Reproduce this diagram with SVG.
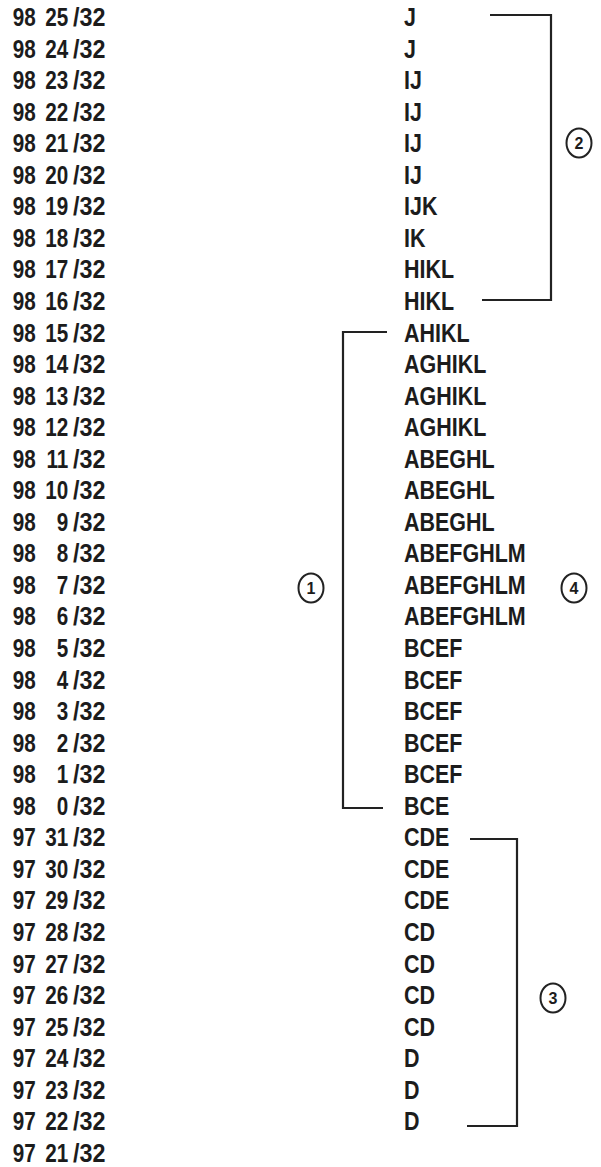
<svg xmlns="http://www.w3.org/2000/svg" width="601" height="1167" viewBox="0 0 601 1167">
<style>
text{font-family:"Liberation Sans",Arial,sans-serif;font-size:26.5px;font-weight:bold;fill:#1c1c1c}
.n{transform:scale(0.78,1)}
.s{transform:scale(0.88,1)}
.l{transform:scale(0.81,1)}
.d{text-anchor:end}
.c{font-size:16px;text-anchor:middle}
.br{fill:none;stroke:#222;stroke-width:2.2}
.ring{fill:none;stroke:#222;stroke-width:2}
</style>
<rect width="601" height="1167" fill="#fff"/>
<g id="rows">
<g id="r0" transform="translate(0 26)"><text class="n" x="16.3">98</text><text class="n d" x="87.6">25</text><text class="s" x="83">/32</text><text class="l" x="498.8">J</text></g>
<g id="r1" transform="translate(0 57.55)"><text class="n" x="16.3">98</text><text class="n d" x="87.6">24</text><text class="s" x="83">/32</text><text class="l" x="498.8">J</text></g>
<g id="r2" transform="translate(0 89.1)"><text class="n" x="16.3">98</text><text class="n d" x="87.6">23</text><text class="s" x="83">/32</text><text class="l" x="498.8">IJ</text></g>
<g id="r3" transform="translate(0 120.65)"><text class="n" x="16.3">98</text><text class="n d" x="87.6">22</text><text class="s" x="83">/32</text><text class="l" x="498.8">IJ</text></g>
<g id="r4" transform="translate(0 152.2)"><text class="n" x="16.3">98</text><text class="n d" x="87.6">21</text><text class="s" x="83">/32</text><text class="l" x="498.8">IJ</text></g>
<g id="r5" transform="translate(0 183.75)"><text class="n" x="16.3">98</text><text class="n d" x="87.6">20</text><text class="s" x="83">/32</text><text class="l" x="498.8">IJ</text></g>
<g id="r6" transform="translate(0 215.3)"><text class="n" x="16.3">98</text><text class="n d" x="87.6">19</text><text class="s" x="83">/32</text><text class="l" x="498.8">IJK</text></g>
<g id="r7" transform="translate(0 246.85)"><text class="n" x="16.3">98</text><text class="n d" x="87.6">18</text><text class="s" x="83">/32</text><text class="l" x="498.8">IK</text></g>
<g id="r8" transform="translate(0 278.4)"><text class="n" x="16.3">98</text><text class="n d" x="87.6">17</text><text class="s" x="83">/32</text><text class="l" x="498.8">HIKL</text></g>
<g id="r9" transform="translate(0 309.95)"><text class="n" x="16.3">98</text><text class="n d" x="87.6">16</text><text class="s" x="83">/32</text><text class="l" x="498.8">HIKL</text></g>
<g id="r10" transform="translate(0 341.5)"><text class="n" x="16.3">98</text><text class="n d" x="87.6">15</text><text class="s" x="83">/32</text><text class="l" x="498.8">AHIKL</text></g>
<g id="r11" transform="translate(0 373.05)"><text class="n" x="16.3">98</text><text class="n d" x="87.6">14</text><text class="s" x="83">/32</text><text class="l" x="498.8">AGHIKL</text></g>
<g id="r12" transform="translate(0 404.6)"><text class="n" x="16.3">98</text><text class="n d" x="87.6">13</text><text class="s" x="83">/32</text><text class="l" x="498.8">AGHIKL</text></g>
<g id="r13" transform="translate(0 436.15)"><text class="n" x="16.3">98</text><text class="n d" x="87.6">12</text><text class="s" x="83">/32</text><text class="l" x="498.8">AGHIKL</text></g>
<g id="r14" transform="translate(0 467.7)"><text class="n" x="16.3">98</text><text class="n d" x="87.6">11</text><text class="s" x="83">/32</text><text class="l" x="498.8">ABEGHL</text></g>
<g id="r15" transform="translate(0 499.25)"><text class="n" x="16.3">98</text><text class="n d" x="87.6">10</text><text class="s" x="83">/32</text><text class="l" x="498.8">ABEGHL</text></g>
<g id="r16" transform="translate(0 530.8)"><text class="n" x="16.3">98</text><text class="n d" x="87.6">9</text><text class="s" x="83">/32</text><text class="l" x="498.8">ABEGHL</text></g>
<g id="r17" transform="translate(0 562.35)"><text class="n" x="16.3">98</text><text class="n d" x="87.6">8</text><text class="s" x="83">/32</text><text class="l" x="498.8">ABEFGHLM</text></g>
<g id="r18" transform="translate(0 593.9)"><text class="n" x="16.3">98</text><text class="n d" x="87.6">7</text><text class="s" x="83">/32</text><text class="l" x="498.8">ABEFGHLM</text></g>
<g id="r19" transform="translate(0 625.45)"><text class="n" x="16.3">98</text><text class="n d" x="87.6">6</text><text class="s" x="83">/32</text><text class="l" x="498.8">ABEFGHLM</text></g>
<g id="r20" transform="translate(0 657)"><text class="n" x="16.3">98</text><text class="n d" x="87.6">5</text><text class="s" x="83">/32</text><text class="l" x="498.8">BCEF</text></g>
<g id="r21" transform="translate(0 688.55)"><text class="n" x="16.3">98</text><text class="n d" x="87.6">4</text><text class="s" x="83">/32</text><text class="l" x="498.8">BCEF</text></g>
<g id="r22" transform="translate(0 720.1)"><text class="n" x="16.3">98</text><text class="n d" x="87.6">3</text><text class="s" x="83">/32</text><text class="l" x="498.8">BCEF</text></g>
<g id="r23" transform="translate(0 751.65)"><text class="n" x="16.3">98</text><text class="n d" x="87.6">2</text><text class="s" x="83">/32</text><text class="l" x="498.8">BCEF</text></g>
<g id="r24" transform="translate(0 783.2)"><text class="n" x="16.3">98</text><text class="n d" x="87.6">1</text><text class="s" x="83">/32</text><text class="l" x="498.8">BCEF</text></g>
<g id="r25" transform="translate(0 814.75)"><text class="n" x="16.3">98</text><text class="n d" x="87.6">0</text><text class="s" x="83">/32</text><text class="l" x="498.8">BCE</text></g>
<g id="r26" transform="translate(0 846.3)"><text class="n" x="16.3">97</text><text class="n d" x="87.6">31</text><text class="s" x="83">/32</text><text class="l" x="498.8">CDE</text></g>
<g id="r27" transform="translate(0 877.85)"><text class="n" x="16.3">97</text><text class="n d" x="87.6">30</text><text class="s" x="83">/32</text><text class="l" x="498.8">CDE</text></g>
<g id="r28" transform="translate(0 909.4)"><text class="n" x="16.3">97</text><text class="n d" x="87.6">29</text><text class="s" x="83">/32</text><text class="l" x="498.8">CDE</text></g>
<g id="r29" transform="translate(0 940.95)"><text class="n" x="16.3">97</text><text class="n d" x="87.6">28</text><text class="s" x="83">/32</text><text class="l" x="498.8">CD</text></g>
<g id="r30" transform="translate(0 972.5)"><text class="n" x="16.3">97</text><text class="n d" x="87.6">27</text><text class="s" x="83">/32</text><text class="l" x="498.8">CD</text></g>
<g id="r31" transform="translate(0 1004.05)"><text class="n" x="16.3">97</text><text class="n d" x="87.6">26</text><text class="s" x="83">/32</text><text class="l" x="498.8">CD</text></g>
<g id="r32" transform="translate(0 1035.6)"><text class="n" x="16.3">97</text><text class="n d" x="87.6">25</text><text class="s" x="83">/32</text><text class="l" x="498.8">CD</text></g>
<g id="r33" transform="translate(0 1067.15)"><text class="n" x="16.3">97</text><text class="n d" x="87.6">24</text><text class="s" x="83">/32</text><text class="l" x="498.8">D</text></g>
<g id="r34" transform="translate(0 1098.7)"><text class="n" x="16.3">97</text><text class="n d" x="87.6">23</text><text class="s" x="83">/32</text><text class="l" x="498.8">D</text></g>
<g id="r35" transform="translate(0 1130.25)"><text class="n" x="16.3">97</text><text class="n d" x="87.6">22</text><text class="s" x="83">/32</text><text class="l" x="498.8">D</text></g>
<g id="r36" transform="translate(0 1161.8)"><text class="n" x="16.3">97</text><text class="n d" x="87.6">21</text><text class="s" x="83">/32</text></g>
</g>
<g id="connectors">
<path class="br" d="M490 15H551V300H482"/>
<path class="br" d="M387 332H343V808H383"/>
<path class="br" d="M470 839H517V1126H467"/>
</g>
<g id="m1"><ellipse class="ring" cx="311" cy="588" rx="12.5" ry="14.5"/><text class="c" x="311" y="594">1</text></g>
<g id="m2"><ellipse class="ring" cx="579" cy="143" rx="12.5" ry="14.5"/><text class="c" x="579" y="149">2</text></g>
<g id="m3"><ellipse class="ring" cx="553" cy="998" rx="12.5" ry="14.5"/><text class="c" x="553" y="1004">3</text></g>
<g id="m4"><ellipse class="ring" cx="574" cy="588" rx="12.5" ry="14.5"/><text class="c" x="574" y="594">4</text></g>
</svg>
